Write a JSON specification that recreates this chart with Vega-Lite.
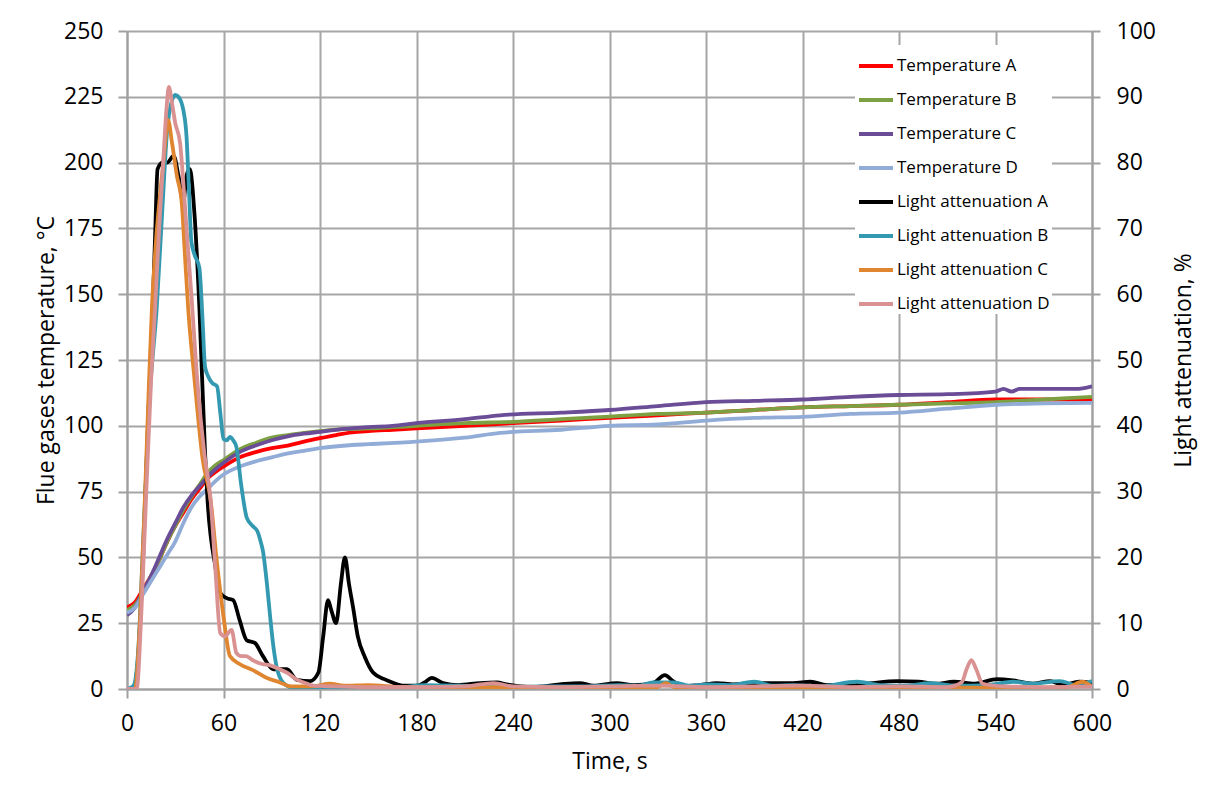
{
  "$schema": "https://vega.github.io/schema/vega-lite/v6.json",
  "width": 965,
  "height": 658,
  "autosize": {"type": "none"},
  "padding": {"left": 127, "top": 31, "right": 119, "bottom": 105},
  "background": "white",
  "config": {
    "view": {"stroke": null},
    "font": "Open Sans",
    "axis": {
      "labelFont": "Open Sans", "labelFontSize": 23, "labelColor": "#000000",
      "titleFont": "Open Sans", "titleFontSize": 23, "titleFontWeight": "normal", "titleColor": "#000000",
      "tickColor": "#a0a0a0", "tickWidth": 2, "tickSize": 9,
      "domainColor": "#a0a0a0", "domainWidth": 2,
      "gridColor": "#a6a6a6", "gridWidth": 2, "gridOpacity": 1
    },
    "legend": {
      "labelFont": "Open Sans", "labelFontSize": 17, "labelColor": "#000000"
    }
  },
  "datasets": {
    "temp": [
      {"s":"Temperature A","t":0,"v":31},{"s":"Temperature A","t":5,"v":33},{"s":"Temperature A","t":10,"v":38},{"s":"Temperature A","t":15,"v":43},{"s":"Temperature A","t":20,"v":49},{"s":"Temperature A","t":25,"v":56},{"s":"Temperature A","t":30,"v":62},{"s":"Temperature A","t":35,"v":67},{"s":"Temperature A","t":40,"v":72},{"s":"Temperature A","t":45,"v":76},{"s":"Temperature A","t":50,"v":80},{"s":"Temperature A","t":55,"v":82.5},{"s":"Temperature A","t":60,"v":84.5},{"s":"Temperature A","t":70,"v":88},{"s":"Temperature A","t":80,"v":90},{"s":"Temperature A","t":90,"v":91.5},{"s":"Temperature A","t":100,"v":92.5},{"s":"Temperature A","t":110,"v":94},{"s":"Temperature A","t":120,"v":95.3},{"s":"Temperature A","t":130,"v":96.5},{"s":"Temperature A","t":140,"v":97.5},{"s":"Temperature A","t":150,"v":98},{"s":"Temperature A","t":165,"v":98.5},{"s":"Temperature A","t":180,"v":99},{"s":"Temperature A","t":210,"v":100},{"s":"Temperature A","t":240,"v":101},{"s":"Temperature A","t":270,"v":102},{"s":"Temperature A","t":300,"v":103},{"s":"Temperature A","t":330,"v":104},{"s":"Temperature A","t":360,"v":105},{"s":"Temperature A","t":390,"v":106},{"s":"Temperature A","t":420,"v":107},{"s":"Temperature A","t":450,"v":107.5},{"s":"Temperature A","t":480,"v":108},{"s":"Temperature A","t":510,"v":109},{"s":"Temperature A","t":540,"v":110},{"s":"Temperature A","t":570,"v":110},{"s":"Temperature A","t":600,"v":110},
      {"s":"Temperature B","t":0,"v":30},{"s":"Temperature B","t":5,"v":32},{"s":"Temperature B","t":10,"v":37},{"s":"Temperature B","t":15,"v":43},{"s":"Temperature B","t":20,"v":49},{"s":"Temperature B","t":25,"v":56},{"s":"Temperature B","t":30,"v":62},{"s":"Temperature B","t":35,"v":68},{"s":"Temperature B","t":40,"v":73},{"s":"Temperature B","t":45,"v":77.5},{"s":"Temperature B","t":50,"v":82},{"s":"Temperature B","t":55,"v":85},{"s":"Temperature B","t":60,"v":87},{"s":"Temperature B","t":70,"v":91},{"s":"Temperature B","t":80,"v":93.5},{"s":"Temperature B","t":90,"v":95.5},{"s":"Temperature B","t":100,"v":96.5},{"s":"Temperature B","t":110,"v":97.3},{"s":"Temperature B","t":120,"v":98},{"s":"Temperature B","t":135,"v":98.7},{"s":"Temperature B","t":150,"v":99},{"s":"Temperature B","t":180,"v":100},{"s":"Temperature B","t":210,"v":101},{"s":"Temperature B","t":240,"v":101.5},{"s":"Temperature B","t":270,"v":102.5},{"s":"Temperature B","t":300,"v":103.5},{"s":"Temperature B","t":330,"v":104.5},{"s":"Temperature B","t":360,"v":105},{"s":"Temperature B","t":390,"v":106},{"s":"Temperature B","t":420,"v":107},{"s":"Temperature B","t":450,"v":107.5},{"s":"Temperature B","t":480,"v":108},{"s":"Temperature B","t":510,"v":108.5},{"s":"Temperature B","t":540,"v":109},{"s":"Temperature B","t":570,"v":110},{"s":"Temperature B","t":600,"v":111},
      {"s":"Temperature C","t":0,"v":28},{"s":"Temperature C","t":5,"v":31},{"s":"Temperature C","t":10,"v":37},{"s":"Temperature C","t":15,"v":43},{"s":"Temperature C","t":20,"v":50},{"s":"Temperature C","t":25,"v":57},{"s":"Temperature C","t":30,"v":63},{"s":"Temperature C","t":35,"v":69},{"s":"Temperature C","t":40,"v":73.5},{"s":"Temperature C","t":45,"v":77},{"s":"Temperature C","t":50,"v":80.5},{"s":"Temperature C","t":55,"v":83.5},{"s":"Temperature C","t":60,"v":86},{"s":"Temperature C","t":70,"v":90},{"s":"Temperature C","t":80,"v":92.5},{"s":"Temperature C","t":90,"v":94.5},{"s":"Temperature C","t":100,"v":96},{"s":"Temperature C","t":110,"v":97},{"s":"Temperature C","t":120,"v":97.7},{"s":"Temperature C","t":135,"v":98.8},{"s":"Temperature C","t":150,"v":99.5},{"s":"Temperature C","t":165,"v":100},{"s":"Temperature C","t":180,"v":101},{"s":"Temperature C","t":210,"v":102.5},{"s":"Temperature C","t":232,"v":104},{"s":"Temperature C","t":270,"v":105},{"s":"Temperature C","t":300,"v":106},{"s":"Temperature C","t":330,"v":107.5},{"s":"Temperature C","t":360,"v":109},{"s":"Temperature C","t":390,"v":109.5},{"s":"Temperature C","t":420,"v":110},{"s":"Temperature C","t":450,"v":111},{"s":"Temperature C","t":480,"v":111.7},{"s":"Temperature C","t":510,"v":112},{"s":"Temperature C","t":540,"v":113},{"s":"Temperature C","t":545,"v":114},{"s":"Temperature C","t":550,"v":113},{"s":"Temperature C","t":555,"v":114},{"s":"Temperature C","t":590,"v":114},{"s":"Temperature C","t":600,"v":115},
      {"s":"Temperature D","t":0,"v":29},{"s":"Temperature D","t":5,"v":31},{"s":"Temperature D","t":10,"v":36},{"s":"Temperature D","t":15,"v":41},{"s":"Temperature D","t":20,"v":46},{"s":"Temperature D","t":25,"v":51},{"s":"Temperature D","t":30,"v":56},{"s":"Temperature D","t":35,"v":63},{"s":"Temperature D","t":40,"v":69},{"s":"Temperature D","t":45,"v":73},{"s":"Temperature D","t":50,"v":76},{"s":"Temperature D","t":55,"v":79},{"s":"Temperature D","t":60,"v":81.5},{"s":"Temperature D","t":70,"v":84.5},{"s":"Temperature D","t":80,"v":86.5},{"s":"Temperature D","t":90,"v":88},{"s":"Temperature D","t":100,"v":89.5},{"s":"Temperature D","t":110,"v":90.5},{"s":"Temperature D","t":120,"v":91.5},{"s":"Temperature D","t":140,"v":92.7},{"s":"Temperature D","t":150,"v":93},{"s":"Temperature D","t":180,"v":94},{"s":"Temperature D","t":210,"v":95.5},{"s":"Temperature D","t":232,"v":97.3},{"s":"Temperature D","t":270,"v":98.5},{"s":"Temperature D","t":300,"v":100},{"s":"Temperature D","t":330,"v":100.5},{"s":"Temperature D","t":360,"v":102},{"s":"Temperature D","t":390,"v":103},{"s":"Temperature D","t":420,"v":103.4},{"s":"Temperature D","t":450,"v":104.5},{"s":"Temperature D","t":480,"v":105},{"s":"Temperature D","t":510,"v":106.5},{"s":"Temperature D","t":540,"v":108},{"s":"Temperature D","t":570,"v":108.5},{"s":"Temperature D","t":600,"v":108.7}
    ],
    "light": [
      {"s":"Light attenuation A","t":0,"v":0},{"s":"Light attenuation A","t":4,"v":0},{"s":"Light attenuation A","t":7,"v":5},{"s":"Light attenuation A","t":10,"v":20},{"s":"Light attenuation A","t":13,"v":40},{"s":"Light attenuation A","t":16,"v":58},{"s":"Light attenuation A","t":17.5,"v":69},{"s":"Light attenuation A","t":19,"v":79},{"s":"Light attenuation A","t":22,"v":80},{"s":"Light attenuation A","t":25,"v":80},{"s":"Light attenuation A","t":29,"v":81},{"s":"Light attenuation A","t":32,"v":78},{"s":"Light attenuation A","t":35,"v":74},{"s":"Light attenuation A","t":37,"v":78},{"s":"Light attenuation A","t":39,"v":79},{"s":"Light attenuation A","t":42,"v":72},{"s":"Light attenuation A","t":45,"v":58},{"s":"Light attenuation A","t":48.5,"v":36},{"s":"Light attenuation A","t":50,"v":29},{"s":"Light attenuation A","t":55,"v":18.5},{"s":"Light attenuation A","t":58,"v":14.6},{"s":"Light attenuation A","t":62,"v":13.8},{"s":"Light attenuation A","t":66,"v":13.5},{"s":"Light attenuation A","t":70,"v":10.5},{"s":"Light attenuation A","t":74.5,"v":7.4},{"s":"Light attenuation A","t":79.5,"v":7},{"s":"Light attenuation A","t":84.5,"v":5},{"s":"Light attenuation A","t":91,"v":3},{"s":"Light attenuation A","t":99.5,"v":3},{"s":"Light attenuation A","t":105.5,"v":1.4},{"s":"Light attenuation A","t":114,"v":1.2},{"s":"Light attenuation A","t":119,"v":2.5},{"s":"Light attenuation A","t":122,"v":8},{"s":"Light attenuation A","t":125,"v":13.5},{"s":"Light attenuation A","t":127,"v":12},{"s":"Light attenuation A","t":130,"v":10},{"s":"Light attenuation A","t":133,"v":16},{"s":"Light attenuation A","t":135.5,"v":20},{"s":"Light attenuation A","t":138,"v":16},{"s":"Light attenuation A","t":140.5,"v":12.5},{"s":"Light attenuation A","t":143.5,"v":8},{"s":"Light attenuation A","t":148,"v":4.8},{"s":"Light attenuation A","t":153,"v":2.5},{"s":"Light attenuation A","t":160,"v":1.5},{"s":"Light attenuation A","t":165,"v":1},{"s":"Light attenuation A","t":172,"v":0.5},{"s":"Light attenuation A","t":180,"v":0.5},{"s":"Light attenuation A","t":185,"v":1},{"s":"Light attenuation A","t":189.5,"v":1.7},{"s":"Light attenuation A","t":196.5,"v":0.9},{"s":"Light attenuation A","t":206,"v":0.6},{"s":"Light attenuation A","t":219.5,"v":0.9},{"s":"Light attenuation A","t":230,"v":1},{"s":"Light attenuation A","t":236,"v":0.7},{"s":"Light attenuation A","t":252.5,"v":0.3},{"s":"Light attenuation A","t":269,"v":0.7},{"s":"Light attenuation A","t":281.5,"v":0.9},{"s":"Light attenuation A","t":290,"v":0.5},{"s":"Light attenuation A","t":304.5,"v":0.9},{"s":"Light attenuation A","t":315,"v":0.6},{"s":"Light attenuation A","t":327,"v":0.9},{"s":"Light attenuation A","t":334.5,"v":2.1},{"s":"Light attenuation A","t":339.5,"v":1.2},{"s":"Light attenuation A","t":346,"v":0.4},{"s":"Light attenuation A","t":356,"v":0.6},{"s":"Light attenuation A","t":367,"v":0.9},{"s":"Light attenuation A","t":377,"v":0.7},{"s":"Light attenuation A","t":389.5,"v":0.9},{"s":"Light attenuation A","t":404,"v":0.9},{"s":"Light attenuation A","t":414,"v":0.9},{"s":"Light attenuation A","t":425,"v":1.1},{"s":"Light attenuation A","t":435,"v":0.6},{"s":"Light attenuation A","t":458,"v":0.8},{"s":"Light attenuation A","t":479,"v":1.2},{"s":"Light attenuation A","t":492,"v":1.1},{"s":"Light attenuation A","t":503,"v":0.8},{"s":"Light attenuation A","t":514,"v":1.1},{"s":"Light attenuation A","t":527,"v":0.8},{"s":"Light attenuation A","t":541,"v":1.5},{"s":"Light attenuation A","t":551,"v":1.3},{"s":"Light attenuation A","t":563,"v":0.8},{"s":"Light attenuation A","t":574,"v":1.2},{"s":"Light attenuation A","t":582,"v":0.6},{"s":"Light attenuation A","t":592,"v":1.1},{"s":"Light attenuation A","t":600,"v":0.9},
      {"s":"Light attenuation B","t":0,"v":0},{"s":"Light attenuation B","t":4,"v":0.5},{"s":"Light attenuation B","t":7,"v":6},{"s":"Light attenuation B","t":10,"v":22},{"s":"Light attenuation B","t":14,"v":44},{"s":"Light attenuation B","t":18.5,"v":58},{"s":"Light attenuation B","t":22,"v":73},{"s":"Light attenuation B","t":25,"v":85},{"s":"Light attenuation B","t":28,"v":89.5},{"s":"Light attenuation B","t":30,"v":90.3},{"s":"Light attenuation B","t":32,"v":90},{"s":"Light attenuation B","t":35,"v":88},{"s":"Light attenuation B","t":37,"v":84},{"s":"Light attenuation B","t":38.5,"v":76},{"s":"Light attenuation B","t":40,"v":68},{"s":"Light attenuation B","t":42,"v":66},{"s":"Light attenuation B","t":45,"v":64},{"s":"Light attenuation B","t":47,"v":56},{"s":"Light attenuation B","t":48.5,"v":49},{"s":"Light attenuation B","t":50.5,"v":47.5},{"s":"Light attenuation B","t":53,"v":46.5},{"s":"Light attenuation B","t":56,"v":46},{"s":"Light attenuation B","t":58,"v":42},{"s":"Light attenuation B","t":60,"v":38},{"s":"Light attenuation B","t":62,"v":37.8},{"s":"Light attenuation B","t":64,"v":38.3},{"s":"Light attenuation B","t":66,"v":37.8},{"s":"Light attenuation B","t":68,"v":36.8},{"s":"Light attenuation B","t":71,"v":31},{"s":"Light attenuation B","t":74.5,"v":26},{"s":"Light attenuation B","t":78,"v":24.8},{"s":"Light attenuation B","t":81,"v":24},{"s":"Light attenuation B","t":83,"v":22.5},{"s":"Light attenuation B","t":84.5,"v":21},{"s":"Light attenuation B","t":87,"v":16},{"s":"Light attenuation B","t":89,"v":11},{"s":"Light attenuation B","t":91,"v":6.5},{"s":"Light attenuation B","t":93,"v":3.4},{"s":"Light attenuation B","t":97,"v":1},{"s":"Light attenuation B","t":103,"v":0.2},{"s":"Light attenuation B","t":115,"v":0.3},{"s":"Light attenuation B","t":130,"v":0.2},{"s":"Light attenuation B","t":150,"v":0.4},{"s":"Light attenuation B","t":170,"v":0.3},{"s":"Light attenuation B","t":185,"v":0.6},{"s":"Light attenuation B","t":207,"v":0.5},{"s":"Light attenuation B","t":230,"v":0.3},{"s":"Light attenuation B","t":260,"v":0.4},{"s":"Light attenuation B","t":287,"v":0.4},{"s":"Light attenuation B","t":305,"v":0.6},{"s":"Light attenuation B","t":318,"v":0.5},{"s":"Light attenuation B","t":327,"v":1},{"s":"Light attenuation B","t":340,"v":1},{"s":"Light attenuation B","t":350,"v":0.5},{"s":"Light attenuation B","t":361,"v":0.7},{"s":"Light attenuation B","t":375,"v":0.6},{"s":"Light attenuation B","t":390,"v":1.1},{"s":"Light attenuation B","t":402,"v":0.5},{"s":"Light attenuation B","t":414,"v":0.6},{"s":"Light attenuation B","t":430,"v":0.4},{"s":"Light attenuation B","t":454,"v":1.1},{"s":"Light attenuation B","t":468,"v":0.6},{"s":"Light attenuation B","t":485,"v":0.5},{"s":"Light attenuation B","t":499,"v":0.9},{"s":"Light attenuation B","t":515,"v":0.5},{"s":"Light attenuation B","t":535,"v":0.6},{"s":"Light attenuation B","t":551,"v":1.1},{"s":"Light attenuation B","t":563,"v":0.8},{"s":"Light attenuation B","t":580,"v":1.2},{"s":"Light attenuation B","t":590,"v":0.6},{"s":"Light attenuation B","t":600,"v":1.2},
      {"s":"Light attenuation C","t":0,"v":0},{"s":"Light attenuation C","t":5,"v":0},{"s":"Light attenuation C","t":8,"v":10},{"s":"Light attenuation C","t":11,"v":28},{"s":"Light attenuation C","t":13,"v":42},{"s":"Light attenuation C","t":15.5,"v":58},{"s":"Light attenuation C","t":18,"v":68},{"s":"Light attenuation C","t":20.5,"v":75},{"s":"Light attenuation C","t":23,"v":81},{"s":"Light attenuation C","t":25.5,"v":86.5},{"s":"Light attenuation C","t":28,"v":83},{"s":"Light attenuation C","t":31,"v":78},{"s":"Light attenuation C","t":34,"v":74},{"s":"Light attenuation C","t":36,"v":66},{"s":"Light attenuation C","t":38,"v":58},{"s":"Light attenuation C","t":42,"v":47},{"s":"Light attenuation C","t":47,"v":35},{"s":"Light attenuation C","t":52,"v":28.7},{"s":"Light attenuation C","t":56,"v":19},{"s":"Light attenuation C","t":60,"v":11},{"s":"Light attenuation C","t":64,"v":5},{"s":"Light attenuation C","t":70,"v":3.8},{"s":"Light attenuation C","t":78,"v":2.9},{"s":"Light attenuation C","t":86,"v":1.8},{"s":"Light attenuation C","t":95,"v":1},{"s":"Light attenuation C","t":102,"v":0.4},{"s":"Light attenuation C","t":115,"v":0.4},{"s":"Light attenuation C","t":126,"v":0.8},{"s":"Light attenuation C","t":135,"v":0.5},{"s":"Light attenuation C","t":150,"v":0.6},{"s":"Light attenuation C","t":170,"v":0.3},{"s":"Light attenuation C","t":200,"v":0.2},{"s":"Light attenuation C","t":230,"v":0.3},{"s":"Light attenuation C","t":260,"v":0.2},{"s":"Light attenuation C","t":300,"v":0.3},{"s":"Light attenuation C","t":330,"v":0.3},{"s":"Light attenuation C","t":335,"v":0.9},{"s":"Light attenuation C","t":340,"v":0.3},{"s":"Light attenuation C","t":370,"v":0.2},{"s":"Light attenuation C","t":400,"v":0.3},{"s":"Light attenuation C","t":450,"v":0.2},{"s":"Light attenuation C","t":500,"v":0.2},{"s":"Light attenuation C","t":550,"v":0.2},{"s":"Light attenuation C","t":585,"v":0.3},{"s":"Light attenuation C","t":594,"v":1.1},{"s":"Light attenuation C","t":600,"v":0.3},
      {"s":"Light attenuation D","t":0,"v":0},{"s":"Light attenuation D","t":6,"v":0},{"s":"Light attenuation D","t":9,"v":12},{"s":"Light attenuation D","t":12,"v":30},{"s":"Light attenuation D","t":15,"v":47},{"s":"Light attenuation D","t":17.5,"v":58},{"s":"Light attenuation D","t":20,"v":70},{"s":"Light attenuation D","t":22.5,"v":80},{"s":"Light attenuation D","t":24.5,"v":88},{"s":"Light attenuation D","t":26,"v":91.5},{"s":"Light attenuation D","t":28,"v":89},{"s":"Light attenuation D","t":30,"v":86},{"s":"Light attenuation D","t":33,"v":83},{"s":"Light attenuation D","t":35,"v":77},{"s":"Light attenuation D","t":37,"v":70},{"s":"Light attenuation D","t":40,"v":60},{"s":"Light attenuation D","t":44,"v":46},{"s":"Light attenuation D","t":48,"v":36},{"s":"Light attenuation D","t":52,"v":28.7},{"s":"Light attenuation D","t":55,"v":18},{"s":"Light attenuation D","t":58,"v":8.5},{"s":"Light attenuation D","t":61,"v":8},{"s":"Light attenuation D","t":65,"v":9},{"s":"Light attenuation D","t":68,"v":5.5},{"s":"Light attenuation D","t":71,"v":5},{"s":"Light attenuation D","t":74,"v":5},{"s":"Light attenuation D","t":78,"v":4.4},{"s":"Light attenuation D","t":84,"v":3.8},{"s":"Light attenuation D","t":89,"v":3.6},{"s":"Light attenuation D","t":95,"v":3},{"s":"Light attenuation D","t":100,"v":2.4},{"s":"Light attenuation D","t":105,"v":1.5},{"s":"Light attenuation D","t":110,"v":1},{"s":"Light attenuation D","t":116,"v":0.5},{"s":"Light attenuation D","t":130,"v":0.4},{"s":"Light attenuation D","t":150,"v":0.3},{"s":"Light attenuation D","t":180,"v":0.3},{"s":"Light attenuation D","t":210,"v":0.4},{"s":"Light attenuation D","t":228,"v":0.9},{"s":"Light attenuation D","t":240,"v":0.4},{"s":"Light attenuation D","t":270,"v":0.3},{"s":"Light attenuation D","t":300,"v":0.4},{"s":"Light attenuation D","t":330,"v":0.5},{"s":"Light attenuation D","t":360,"v":0.3},{"s":"Light attenuation D","t":390,"v":0.4},{"s":"Light attenuation D","t":420,"v":0.5},{"s":"Light attenuation D","t":450,"v":0.3},{"s":"Light attenuation D","t":480,"v":0.4},{"s":"Light attenuation D","t":510,"v":0.3},{"s":"Light attenuation D","t":519,"v":1},{"s":"Light attenuation D","t":522,"v":3},{"s":"Light attenuation D","t":525,"v":4.4},{"s":"Light attenuation D","t":528,"v":3},{"s":"Light attenuation D","t":532,"v":0.8},{"s":"Light attenuation D","t":545,"v":0.4},{"s":"Light attenuation D","t":570,"v":0.3},{"s":"Light attenuation D","t":600,"v":0.4}
    ]
  },
  "encoding": {
    "x": {"field": "t", "type": "quantitative",
      "scale": {"domain": [0, 600], "nice": false, "zero": false},
      "axis": {"title": "Time, s", "values": [0,60,120,180,240,300,360,420,480,540,600], "grid": true, "labelFlush": false, "labelPadding": 14, "titlePadding": 15}
    }
  },
  "layer": [
    {
      "data": {"name": "temp"},
      "mark": {"type": "line", "strokeWidth": 3.8, "interpolate": "monotone", "clip": true},
      "encoding": {
        "y": {"field": "v", "type": "quantitative",
          "scale": {"domain": [0, 250], "nice": false},
          "axis": {"title": "Flue gases temperature, °C", "orient": "left", "values": [0,25,50,75,100,125,150,175,200,225,250], "grid": true, "labelPadding": 15, "titlePadding": 5}
        },
        "color": {"field": "s", "type": "nominal", "sort": null,
          "scale": {
            "domain": ["Temperature A","Temperature B","Temperature C","Temperature D","Light attenuation A","Light attenuation B","Light attenuation C","Light attenuation D"],
            "range": ["#ff0000","#7da042","#6a4c97","#92acd8","#000000","#3399b0","#e08530","#d99191"]
          },
          "legend": {
            "title": null, "orient": "none", "legendX": 728, "legendY": 14,
            "fillColor": "white", "padding": 2,
            "symbolType": "stroke", "symbolSize": 1156, "symbolStrokeWidth": 4,
            "labelOffset": 2, "rowPadding": 7, "labelLimit": 300
          }
        }
      }
    },
    {
      "data": {"name": "light"},
      "mark": {"type": "line", "strokeWidth": 3.8, "interpolate": "monotone", "clip": true},
      "encoding": {
        "y": {"field": "v", "type": "quantitative",
          "scale": {"domain": [0, 100], "nice": false},
          "axis": {"title": "Light attenuation, %", "orient": "right", "values": [0,10,20,30,40,50,60,70,80,90,100], "grid": false, "tickSize": 8, "labelPadding": 16, "titlePadding": 40, "titleAngle": -90}
        },
        "color": {"field": "s", "type": "nominal", "sort": null}
      }
    }
  ],
  "resolve": {"scale": {"y": "independent"}}
}
